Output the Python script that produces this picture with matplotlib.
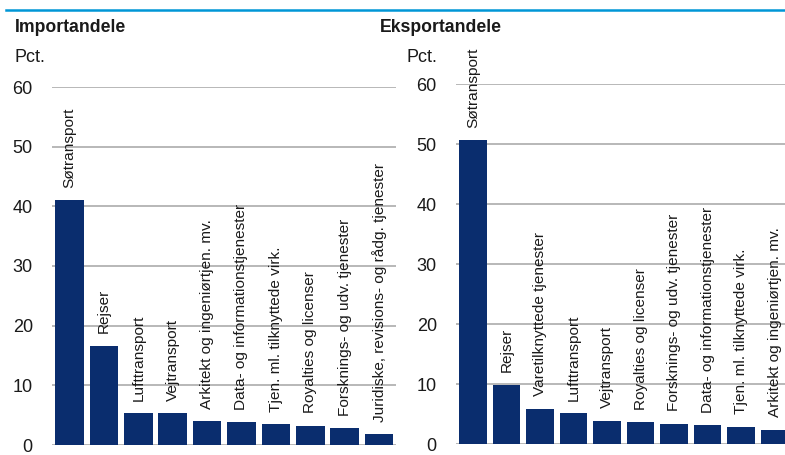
import matplotlib
matplotlib.use("Agg")
import matplotlib.pyplot as plt
from matplotlib.lines import Line2D

plt.rcParams['font.family'] = ['Liberation Sans', 'DejaVu Sans']

imp_labels = ["Søtransport", "Rejser", "Lufttransport", "Vejtransport",
              "Arkitekt og ingeniørtjen. mv.", "Data- og informationstjenester",
              "Tjen. ml. tilknyttede virk.", "Royalties og licenser",
              "Forsknings- og udv. tjenester",
              "Juridiske, revisions- og rådg. tjenester"]
imp_values = [41.0, 16.6, 5.3, 5.3, 4.0, 3.85, 3.5, 3.2, 2.8, 1.8]

exp_labels = ["Søtransport", "Rejser", "Varetilknyttede tjenester", "Lufttransport",
              "Vejtransport", "Royalties og licenser", "Forsknings- og udv. tjenester",
              "Data- og informationstjenester", "Tjen. ml. tilknyttede virk.",
              "Arkitekt og ingeniørtjen. mv."]
exp_values = [50.7, 9.9, 5.9, 5.2, 3.9, 3.7, 3.4, 3.2, 2.9, 2.4]

yticks = [0, 10, 20, 30, 40, 50, 60]

W, H = 785, 455
fig = plt.figure(figsize=(W / 100, H / 100), dpi=100)

BAR = '#0A2D6E'
GRID = '#ABABAB'


def px_axes(x0, x1, ytop, ybot):
    return fig.add_axes([x0 / W, 1 - ybot / H, (x1 - x0) / W, (ybot - ytop) / H])


def panel(ax, labels, values):
    xs = list(range(len(values)))
    ax.bar(xs, values, width=0.83, color=BAR, zorder=3)
    ax.set_xlim(-0.5, len(values) - 0.5)
    ax.set_ylim(0, 60)
    ax.set_yticks(yticks)
    ax.set_xticks([])
    for s in ax.spines.values():
        s.set_visible(False)
    ax.yaxis.grid(True, color=GRID, linewidth=1.2, zorder=0)
    ax.set_axisbelow(True)
    ax.tick_params(axis='y', length=0, pad=14, labelsize=13, labelcolor='#1a1a1a')
    for x, v, lab in zip(xs, values, labels):
        ax.annotate(lab, xy=(x, v), xytext=(0, 9), textcoords='offset points',
                    rotation=90, ha='center', va='bottom', fontsize=11.1,
                    color='#1a1a1a', clip_on=False, annotation_clip=False)


ax1 = px_axes(52.3, 396.3, 87, 445)
panel(ax1, imp_labels, imp_values)
ax2 = px_axes(456.3, 791.3, 84.3, 444.3)
panel(ax2, exp_labels, exp_values)

fig.text(15 / W, 1 - 27 / H, "Importandele", fontsize=12.7, fontweight='bold',
         ha='left', va='center', color='#1a1a1a')
fig.text(380 / W, 1 - 27 / H, "Eksportandele", fontsize=12.7, fontweight='bold',
         ha='left', va='center', color='#1a1a1a')
fig.text(15 / W, 1 - 57 / H, "Pct.", fontsize=13, ha='left', va='center', color='#1a1a1a')
fig.text(406 / W, 1 - 57 / H, "Pct.", fontsize=13, ha='left', va='center', color='#1a1a1a')

fig.add_artist(Line2D([6 / W, 1.0], [1 - 10 / H, 1 - 10 / H], transform=fig.transFigure,
                      color='#0096D6', linewidth=1.8))

fig.savefig("out.png", dpi=100)
